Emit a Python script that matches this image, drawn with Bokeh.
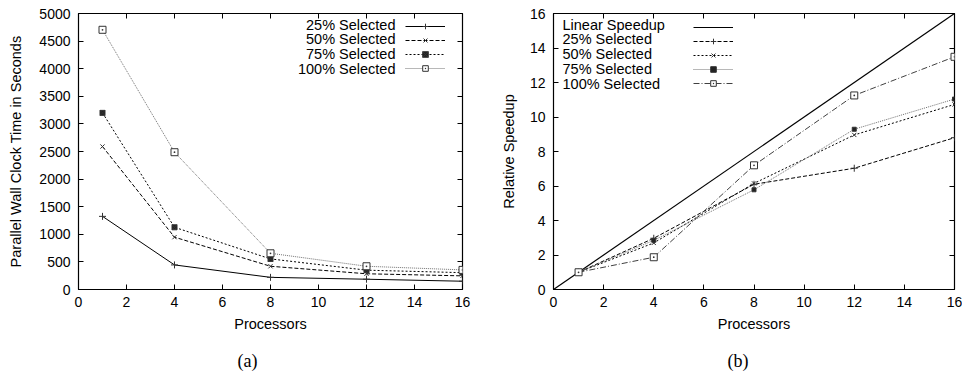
from bokeh.plotting import figure
from bokeh.layouts import row, column
from bokeh.models import (Range1d, LinearAxis, FixedTicker, Legend, LegendItem,
                          Label)
from bokeh.core.properties import value
from bokeh.embed import file_html
from bokeh.resources import INLINE

# ---------------- data ----------------
procs = [1, 4, 8, 12, 16]
series_names = ["25% Selected", "50% Selected", "75% Selected", "100% Selected"]
time_25 = [1325, 445, 220, 186, 150]
time_50 = [2590, 948, 421, 285, 247]
time_75 = [3200, 1127, 554, 350, 305]
time_100 = [4705, 2487, 656, 421, 355]

linear_x = [0, 16]
linear_y = [0, 16]
speed_25 = [1.0, 2.97, 6.1, 7.03, 8.8]
speed_50 = [1.0, 2.7, 6.15, 8.96, 10.73]
speed_75 = [1.0, 2.85, 5.78, 9.29, 11.04]
speed_100 = [1.0, 1.87, 7.2, 11.25, 13.49]

x_ticks = [0, 2, 4, 6, 8, 10, 12, 14, 16]
y_ticks_a = [0, 500, 1000, 1500, 2000, 2500, 3000, 3500, 4000, 4500, 5000]
y_ticks_b = [0, 2, 4, 6, 8, 10, 12, 14, 16]
captions = ["(a)", "(b)"]

FONT = "Liberation Sans"
SERIF = "Liberation Serif"


def style_panel(p, xt, yt, ylab_standoff):
    p.xaxis.ticker = FixedTicker(ticks=xt)
    p.yaxis.ticker = FixedTicker(ticks=yt)
    for ax in p.xaxis + p.yaxis:
        ax.major_tick_in = 5
        ax.major_tick_out = 0
        ax.minor_tick_line_color = None
        ax.axis_line_color = None
        ax.major_tick_line_color = "black"
        ax.major_label_text_font = FONT
        ax.major_label_text_font_size = "14px"
        ax.major_label_text_color = "black"
        ax.axis_label_text_font = FONT
        ax.axis_label_text_font_size = "14.5px"
        ax.axis_label_text_font_style = "normal"
        ax.axis_label_text_color = "black"
    p.xaxis.major_label_standoff = 7
    p.xaxis.axis_label_standoff = 6
    p.yaxis.major_label_standoff = 8
    p.yaxis.axis_label_standoff = ylab_standoff
    # mirrored ticks on top and right
    top = LinearAxis(ticker=FixedTicker(ticks=xt), major_tick_in=5, major_tick_out=0,
                     minor_tick_line_color=None, axis_line_color=None,
                     major_label_text_font_size="0px", major_label_text_color=None,
                     major_label_standoff=0)
    right = LinearAxis(ticker=FixedTicker(ticks=yt), major_tick_in=5, major_tick_out=0,
                       minor_tick_line_color=None, axis_line_color=None,
                       major_label_text_font_size="0px", major_label_text_color=None,
                       major_label_standoff=0)
    p.add_layout(top, "above")
    p.add_layout(right, "right")
    p.xgrid.visible = False
    p.ygrid.visible = False
    p.outline_line_color = "black"
    p.outline_line_width = 1.2


def add_legend(p, renderers, labels, frame_h, lab_x, lab_align, glyph_x, top_off, step):
    items = [LegendItem(label=value(""), renderers=r) for r in renderers]
    n = len(items)
    leg = Legend(items=items, location=(glyph_x, frame_h - top_off + step / 2 - n * step),
                 glyph_width=40, glyph_height=int(step), label_width=0, label_height=int(step),
                 label_standoff=0, label_text_font_size="1px", spacing=0, padding=0, margin=0,
                 border_line_color=None, background_fill_alpha=0)
    p.add_layout(leg)
    for i, t in enumerate(labels):
        p.add_layout(Label(x=lab_x, y=frame_h - top_off - i * step, x_units="screen",
                           y_units="screen", text=t, text_align=lab_align,
                           text_baseline="middle", text_font=FONT, text_font_size="14.5px",
                           text_color="black"))


# ---------------- panel (a) ----------------
pa = figure(width=480, height=340, output_backend="svg", toolbar_location=None,
            x_range=Range1d(0, 16), y_range=Range1d(0, 5000),
            min_border_left=78, min_border_right=18, min_border_top=12, min_border_bottom=51,
            x_axis_label="Processors", y_axis_label="Parallel Wall Clock Time in Seconds")
style_panel(pa, x_ticks, y_ticks_a, 12)

styles_a = [
    dict(color="black", dash="solid", marker="cross", size=7, fill="black"),
    dict(color="black", dash="4 2", marker="x", size=6, fill="black"),
    dict(color="black", dash="2 2", marker="square_x", size=5, fill="#222222"),
    dict(color="#707070", dash="1 1", marker="square_dot", size=7, fill="white"),
]
rend_a = []
for ys, st in zip([time_25, time_50, time_75, time_100], styles_a):
    l = pa.line(procs, ys, line_color=st["color"], line_width=1, line_dash=st["dash"])
    m = pa.scatter(procs, ys, marker=st["marker"], size=st["size"], line_color="#333333",
                   fill_color=st["fill"], line_width=1)
    rend_a.append([l, m])
add_legend(pa, rend_a, series_names, 277, 317, "right", 327, 12, 14.7)

# ---------------- panel (b) ----------------
pb = figure(width=482, height=340, output_backend="svg", toolbar_location=None,
            x_range=Range1d(0, 16), y_range=Range1d(0, 16),
            min_border_left=73, min_border_right=8, min_border_top=13, min_border_bottom=50,
            x_axis_label="Processors", y_axis_label="Relative Speedup")
style_panel(pb, x_ticks, y_ticks_b, 10)

lin = pb.line(linear_x, linear_y, line_color="black", line_width=1.2)
styles_b = [
    dict(color="black", dash="4 2", marker="cross", size=7, fill="black"),
    dict(color="black", dash="2 2", marker="x", size=6, fill="black"),
    dict(color="#707070", dash="1 1", marker="square", size=4, fill="#222222"),
    dict(color="#404040", dash="6 2 1 2", marker="square_dot", size=7, fill="white"),
]
rend_b = [[lin]]
for ys, st in zip([speed_25, speed_50, speed_75, speed_100], styles_b):
    l = pb.line(procs, ys, line_color=st["color"], line_width=1, line_dash=st["dash"])
    m = pb.scatter(procs, ys, marker=st["marker"], size=st["size"], line_color="#333333",
                   fill_color=st["fill"], line_width=1)
    rend_b.append([l, m])
add_legend(pb, rend_b, ["Linear Speedup"] + series_names, 277, 9, "left", 140, 12, 14.75)

# ---------------- captions strip ----------------
pc = figure(width=962, height=36, output_backend="svg", toolbar_location=None,
            x_range=Range1d(0, 962), y_range=Range1d(0, 36),
            min_border=0, outline_line_color=None)
pc.axis.visible = False
pc.grid.visible = False
pc.text(x=[237, 727], y=[16, 16], text=captions, text_align="left",
        text_baseline="middle", text_font=value(SERIF), text_font_size="18px",
        text_color="black")

layout = column(row(pa, pb), pc)
open("out.html", "w").write(file_html(layout, INLINE))
